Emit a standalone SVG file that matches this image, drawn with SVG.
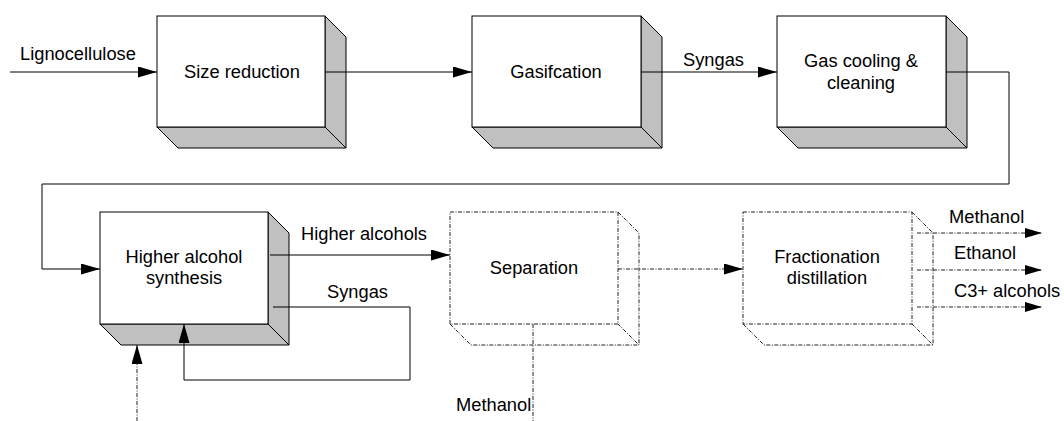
<svg xmlns="http://www.w3.org/2000/svg" width="1064" height="421" viewBox="0 0 1064 421">
  <defs>
    <marker id="arrow" markerUnits="userSpaceOnUse" markerWidth="20" markerHeight="12" refX="19" refY="5.5" orient="auto">
      <path d="M0,0 L19,5.5 L0,11 z" fill="#000"/>
    </marker>
    <marker id="arrowSm" markerUnits="userSpaceOnUse" markerWidth="18" markerHeight="11" refX="17" refY="5" orient="auto">
      <path d="M0,0 L17,5 L0,10 z" fill="#000"/>
    </marker>
  </defs>
  <style>
    text { font-family: "Liberation Sans", Arial, sans-serif; font-size: 18.3px; fill: #000; }
    .face { fill: #fff; stroke: #000; stroke-width: 1; }
    .side { fill: #c0c0c0; stroke: #000; stroke-width: 1; stroke-linejoin: round; }
    .dface { fill: #fff; stroke: #222; stroke-width: 1; stroke-dasharray: 4 1.5 1 1.5; }
    .dside { fill: none; stroke: #222; stroke-width: 1; stroke-dasharray: 4 1.5 1 1.5; }
    .line { fill: none; stroke: #000; stroke-width: 1; }
    .dline { fill: none; stroke: #222; stroke-width: 1; stroke-dasharray: 4 1.5 1 1.5; }
    .mid { text-anchor: middle; }
  </style>

  <rect width="1064" height="421" fill="#fff"/>

  <!-- Process units: front face plus right and bottom depth faces -->
  <g id="size-reduction">
    <polygon class="side" points="325,16 346,37 346,148 325,127"/>
    <polygon class="side" points="157,127 325,127 346,148 178,148"/>
    <rect class="face" x="157" y="16" width="168" height="111"/>
    <text class="mid" x="242" y="78">Size reduction</text>
  </g>

  <g id="gasification">
    <polygon class="side" points="641,16 662,37 662,148 641,127"/>
    <polygon class="side" points="472,127 641,127 662,148 493,148"/>
    <rect class="face" x="472" y="16" width="169" height="111"/>
    <text class="mid" x="556" y="78">Gasifcation</text>
  </g>

  <g id="gas-cooling">
    <polygon class="side" points="946,16 967,37 967,148 946,127"/>
    <polygon class="side" points="777,127 946,127 967,148 798,148"/>
    <rect class="face" x="777" y="16" width="169" height="111"/>
    <text class="mid" x="861" y="67">Gas cooling &amp;</text>
    <text class="mid" x="861" y="89">cleaning</text>
  </g>

  <g id="has">
    <polygon class="side" points="268,212 289,233 289,345 268,324"/>
    <polygon class="side" points="100,324 268,324 289,345 121,345"/>
    <rect class="face" x="100" y="212" width="168" height="112"/>
    <text class="mid" x="184" y="263">Higher alcohol</text>
    <text class="mid" x="184" y="284">synthesis</text>
  </g>

  <g id="separation">
    <polyline class="dside" points="618,212 639,233 639,345 618,324"/>
    <polyline class="dside" points="450,324 471,345 639,345"/>
    <rect class="dface" x="450" y="212" width="168" height="112"/>
    <text class="mid" x="534" y="274">Separation</text>
  </g>

  <g id="fractionation">
    <polyline class="dside" points="912,212 933,233 933,345 912,324"/>
    <polyline class="dside" points="743,324 764,345 933,345"/>
    <rect class="dface" x="743" y="212" width="169" height="112"/>
    <text class="mid" x="827" y="263">Fractionation</text>
    <text class="mid" x="827" y="284">distillation</text>
  </g>

  <!-- Streams -->
  <g id="connectors">
    <path class="line" d="M10,72 H157" marker-end="url(#arrow)"/>
    <path class="line" d="M325,72 H472" marker-end="url(#arrow)"/>
    <path class="line" d="M641,72 H777" marker-end="url(#arrow)"/>
    <path class="line" d="M946,72 H1009 V184 H42 V269 H100" marker-end="url(#arrow)"/>
    <path class="line" d="M270,255 H450" marker-end="url(#arrow)"/>
    <path class="line" d="M273,307 H410 V380 H184 V324" marker-end="url(#arrow)"/>
    <path class="dline" d="M137,421 V345" marker-end="url(#arrow)"/>
    <path class="dline" d="M533,324 V421"/>
    <path class="dline" d="M618,269 H743" marker-end="url(#arrow)"/>
    <path class="dline" d="M917,233 H1042" marker-end="url(#arrowSm)"/>
    <path class="dline" d="M917,270 H1042" marker-end="url(#arrowSm)"/>
    <path class="dline" d="M917,307 H1042" marker-end="url(#arrowSm)"/>
  </g>

  <!-- Stream labels -->
  <g id="labels">
    <text x="20" y="60">Lignocellulose</text>
    <text x="683" y="66">Syngas</text>
    <text x="301" y="240">Higher alcohols</text>
    <text x="327" y="298">Syngas</text>
    <text x="456" y="411">Methanol</text>
    <text x="949" y="223">Methanol</text>
    <text x="954" y="259">Ethanol</text>
    <text x="954" y="297">C3+ alcohols</text>
  </g>
</svg>
